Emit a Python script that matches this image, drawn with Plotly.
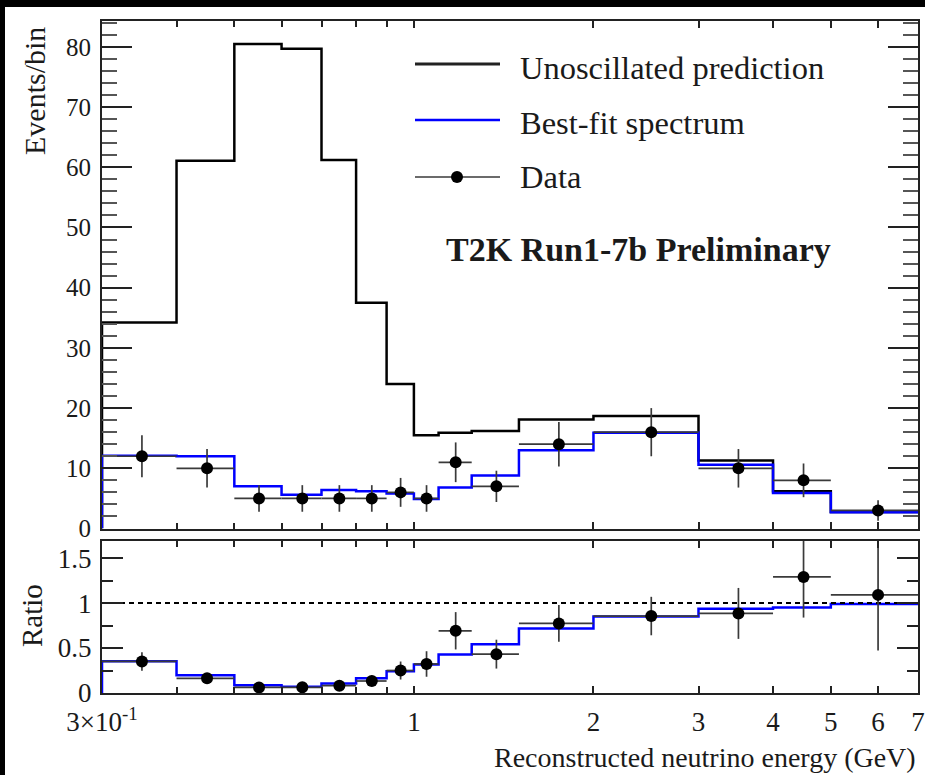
import plotly.graph_objects as go
import math

# ---------------- data ----------------
bin_edges = [0.3, 0.4, 0.5, 0.6, 0.7, 0.8, 0.9, 1.0, 1.1, 1.25, 1.5, 2.0, 3.0, 4.0, 5.0, 7.0]
unoscillated = [34.2, 61.1, 80.5, 79.7, 61.2, 37.5, 24.0, 15.5, 15.9, 16.2, 18.1, 18.7, 11.3, 6.2, 2.75]
best_fit = [12.1, 12.0, 7.0, 5.6, 6.4, 6.2, 5.8, 4.9, 6.8, 8.8, 13.0, 15.9, 10.6, 5.9, 2.72]
data_counts = [12, 10, 5, 5, 5, 5, 6, 5, 11, 7, 14, 16, 10, 8, 3]
data_errors = [3.5, 3.2, 2.2, 2.2, 2.2, 2.2, 2.4, 2.2, 3.3, 2.6, 3.7, 4.0, 3.2, 2.8, 1.7]

x_tickvals = [0.3, 1, 2, 3, 4, 5, 6, 7]
x_ticktext = ["3×10<sup>-1</sup>", "1", "2", "3", "4", "5", "6", "7"]
x_minor_tickvals = [0.4, 0.5, 0.6, 0.7, 0.8, 0.9]
ratio_tickvals = [0, 0.5, 1, 1.5]
ratio_ticktext = ["0", "0.5", "1", "1.5"]

# ---------------- derived ----------------
centers = [(a + b) / 2 for a, b in zip(bin_edges[:-1], bin_edges[1:])]
half_w = [(b - a) / 2 for a, b in zip(bin_edges[:-1], bin_edges[1:])]
step_x = [bin_edges[0]] + bin_edges[:-1] + [bin_edges[-1]]


def step_y(vals):
    return [0] + list(vals) + [vals[-1]]


ratio_data = [d / u for d, u in zip(data_counts, unoscillated)]
ratio_err = [e / u for e, u in zip(data_errors, unoscillated)]
ratio_fit = [f / u for f, u in zip(best_fit, unoscillated)]

W, H = 925, 775
FONT = "Liberation Serif, Times New Roman, serif"
TXT = "#1a1a1a"
AX = "#222222"


def px(x):
    return x / W


def py(y):
    return 1 - y / H


fig = go.Figure()

# top panel
fig.add_trace(go.Scatter(x=step_x, y=step_y(unoscillated), mode="lines", line=dict(shape="hv", color="black", width=2.5),
                         xaxis="x", yaxis="y", showlegend=False, name="Unoscillated prediction"))
fig.add_trace(go.Scatter(x=step_x, y=step_y(best_fit), mode="lines", line=dict(shape="hv", color="#0000ff", width=2.5),
                         xaxis="x", yaxis="y", showlegend=False, name="Best-fit spectrum"))
fig.add_trace(go.Scatter(x=centers, y=data_counts, mode="markers", marker=dict(color="black", size=12),
                         error_x=dict(type="data", array=half_w, color="#3a3a3a", thickness=1.7, width=0),
                         error_y=dict(type="data", array=data_errors, color="#3a3a3a", thickness=1.7, width=0),
                         xaxis="x", yaxis="y", showlegend=False, name="Data"))

# ratio panel
fig.add_trace(go.Scatter(x=step_x, y=step_y(ratio_fit), mode="lines", line=dict(shape="hv", color="#0000ff", width=2.5),
                         xaxis="x2", yaxis="y2", showlegend=False))
fig.add_trace(go.Scatter(x=[bin_edges[0], bin_edges[-1]], y=[1, 1], mode="lines",
                         line=dict(color="black", width=2, dash="5px,4px"),
                         xaxis="x2", yaxis="y2", showlegend=False))
fig.add_trace(go.Scatter(x=centers, y=ratio_data, mode="markers", marker=dict(color="black", size=12),
                         error_x=dict(type="data", array=half_w, color="#3a3a3a", thickness=1.7, width=0),
                         error_y=dict(type="data", array=ratio_err, color="#3a3a3a", thickness=1.7, width=0),
                         xaxis="x2", yaxis="y2", showlegend=False))

xr = [math.log10(0.3), math.log10(7)]
xdom = [px(102), px(918)]
common_x = dict(type="log", range=xr, domain=xdom, showgrid=False, zeroline=False, showline=True,
                linewidth=2, linecolor=AX, mirror="ticks", ticks="inside", tickmode="array",
                tickvals=x_tickvals, ticklen=7, tickwidth=2, tickcolor=AX, automargin=False,
                minor=dict(tickmode="array", tickvals=x_minor_tickvals, ticklen=6, tickwidth=2,
                           tickcolor=AX, ticks="inside", showgrid=False))

fig.update_layout(
    template="none",
    width=W, height=H,
    margin=dict(l=0, r=0, t=0, b=0, pad=0),
    paper_bgcolor="white", plot_bgcolor="white",
    font=dict(family=FONT, color=TXT),
    showlegend=False,
    xaxis=dict(**common_x, anchor="y", showticklabels=False),
    yaxis=dict(domain=[py(528.5), py(21)], range=[0, 84.3], anchor="x", showgrid=False, zeroline=False,
               showline=True, linewidth=2, linecolor=AX, mirror="ticks", ticks="inside", automargin=False,
               tick0=0, dtick=10, ticklen=30, tickwidth=2, tickcolor=AX,
               minor=dict(dtick=2, ticklen=15, tickwidth=2, tickcolor="#555", ticks="inside", showgrid=False),
               tickfont=dict(size=25, color=TXT), ticklabelstandoff=4),
    xaxis2=dict(**common_x, anchor="y2", matches="x", ticktext=x_ticktext,
                tickfont=dict(size=27, color=TXT), ticklabelstandoff=4),
    yaxis2=dict(domain=[py(693), py(541)], range=[0, 1.69], anchor="x2", showgrid=False, zeroline=False,
                showline=True, linewidth=2, linecolor=AX, mirror="ticks", ticks="inside", automargin=False,
                tickmode="array", tickvals=ratio_tickvals, ticktext=ratio_ticktext, ticklen=21, tickwidth=2,
                tickcolor=AX,
                minor=dict(tickmode="array", tickvals=[0.25, 0.75, 1.25], ticklen=11, tickwidth=2,
                           tickcolor=AX, ticks="inside", showgrid=False),
                tickfont=dict(size=27, color=TXT), ticklabelstandoff=3),
)

annotations = [
    dict(text="Events/bin", x=px(34), y=py(91), textangle=-90, font=dict(size=30, color=TXT)),
    dict(text="Ratio", x=px(32), y=py(616), textangle=-90, font=dict(size=29, color=TXT)),
    dict(text="Reconstructed neutrino energy (GeV)", x=px(918), y=py(757), xanchor="right",
         font=dict(size=28, color=TXT)),
    dict(text="Unoscillated prediction", x=px(518), y=py(68), xanchor="left", font=dict(size=32.5, color=TXT)),
    dict(text="Best-fit spectrum", x=px(518), y=py(122.5), xanchor="left", font=dict(size=32.5, color=TXT)),
    dict(text="Data", x=px(518), y=py(177.5), xanchor="left", font=dict(size=32.5, color=TXT)),
    dict(text="<b>T2K Run1-7b Preliminary</b>", x=px(638), y=py(249), font=dict(size=34, color=TXT)),
]
for a in annotations:
    a.setdefault("xanchor", "center")
    a.update(xref="paper", yref="paper", yanchor="middle", showarrow=False)
fig.update_layout(annotations=annotations)

shapes = [
    # legend samples
    dict(type="line", x0=px(415), x1=px(500), y0=py(64), y1=py(64), line=dict(color="#222", width=3)),
    dict(type="line", x0=px(415), x1=px(500), y0=py(120), y1=py(120), line=dict(color="#0000ff", width=2.5)),
    dict(type="line", x0=px(415), x1=px(500), y0=py(177), y1=py(177), line=dict(color="#3a3a3a", width=1.7)),
    dict(type="circle", x0=px(451), x1=px(463), y0=py(183), y1=py(171), fillcolor="black", line=dict(width=0)),
    # black frame strips at top and left edges of the picture
    dict(type="rect", x0=0, x1=1, y0=py(7), y1=1, fillcolor="black", line=dict(width=0)),
    dict(type="rect", x0=0, x1=px(5), y0=0, y1=1, fillcolor="black", line=dict(width=0)),
]
for s in shapes:
    s.update(xref="paper", yref="paper", layer="above")
fig.update_layout(shapes=shapes)

# the page's default 8px body margin would shift the figure; remove it
fig.write_html("out.html", config={"displayModeBar": False},
               post_script="document.body.style.margin='0px';document.body.style.overflow='hidden';")
